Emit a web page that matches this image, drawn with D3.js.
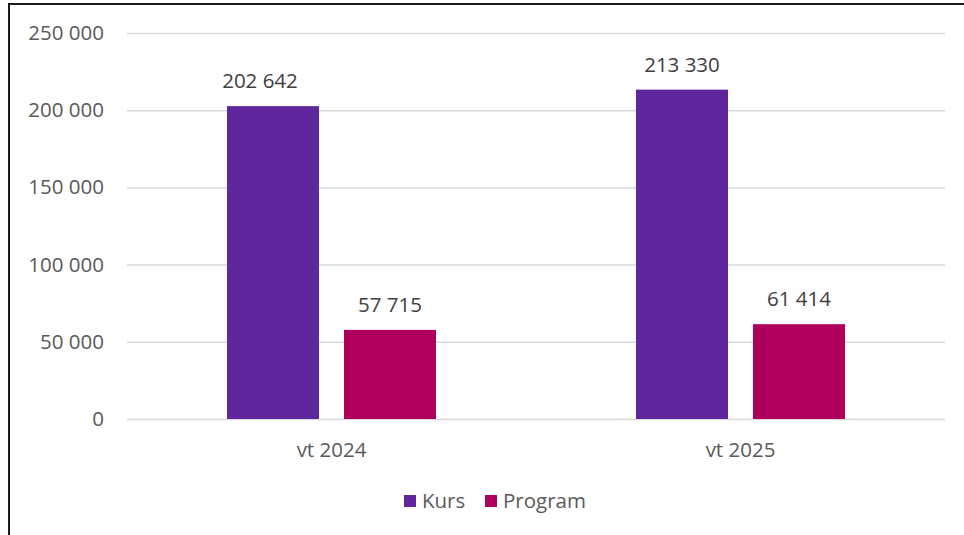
<!DOCTYPE html>
<html lang="sv">
<head>
    <meta charset="UTF-8">
    <title>Kurs och program</title>
    <script src="https://d3js.org/d3.v7.min.js"></script>
    <style>
        html, body { margin: 0; padding: 0; background: #fff; }
        svg { display: block; font-family: "Open Sans", "Noto Sans", sans-serif; }
    </style>
</head>
<body>
    <div id="chart"></div>
    <script>
        // data
        const categories = ["vt 2024", "vt 2025"];
        const series = ["Kurs", "Program"];
        const kurs = [202642, 213330];
        const program = [57715, 61414];
        const yTicks = [0, 50000, 100000, 150000, 200000, 250000];
        const colors = ["#60269e", "#b0005e"];

        const W = 964, H = 535;
        const plot = { left: 127, right: 945, top: 33, bottom: 419 };
        const fs = "20.5px";

        const svg = d3.select("#chart").append("svg")
            .attr("width", W).attr("height", H);

        // frame around the figure (cut off at right and bottom)
        svg.append("path")
            .attr("d", `M9,${H + 5} V4 H${W + 5}`)
            .attr("fill", "none")
            .attr("stroke", "#1a1a1a")
            .attr("stroke-width", 2);

        const x0 = d3.scaleBand().domain(categories).range([plot.left, plot.right]);
        const x1 = d3.scaleBand().domain(series)
            .range([100, x0.bandwidth() - 100])
            .paddingInner(0.2137);
        const y = d3.scaleLinear().domain([0, 250000]).range([plot.bottom, plot.top]);

        const fmt = v => d3.format(",")(v).replace(/,/g, " ");

        // grid + y labels
        const yAxis = svg.append("g")
            .attr("transform", `translate(${plot.left},0)`)
            .call(d3.axisLeft(y).tickValues(yTicks).tickSize(-(plot.right - plot.left)).tickPadding(23).tickFormat(fmt));
        yAxis.select(".domain").remove();
        yAxis.selectAll(".tick line").attr("stroke", "#d9d9d9").attr("stroke-width", 1.5);
        yAxis.selectAll(".tick text")
            .attr("fill", "#595959")
            .style("font-size", fs)
            .style("font-family", "'Open Sans', sans-serif");

        // x labels
        const xAxis = svg.append("g")
            .attr("transform", `translate(0,${plot.bottom})`)
            .call(d3.axisBottom(x0).tickSize(0).tickPadding(23));
        xAxis.select(".domain").remove();
        xAxis.selectAll(".tick text")
            .attr("fill", "#595959")
            .style("font-size", fs)
            .style("font-family", "'Open Sans', sans-serif");

        const rows = categories.map((c, i) => ({ cat: c, vals: [kurs[i], program[i]] }));

        const groups = svg.selectAll("g.grp").data(rows).enter().append("g")
            .attr("class", "grp")
            .attr("transform", d => `translate(${x0(d.cat)},0)`);

        groups.selectAll("rect")
            .data(d => d.vals.map((v, j) => ({ s: series[j], v: v, j: j })))
            .enter().append("rect")
            .attr("x", d => x1(d.s))
            .attr("y", d => y(d.v))
            .attr("width", x1.bandwidth())
            .attr("height", d => y(0) - y(d.v))
            .attr("fill", d => colors[d.j]);

        groups.selectAll("text.lbl")
            .data((d, i) => d.vals.map((v, j) => ({ s: series[j], v: v, first: i === 0 && j === 0 })))
            .enter().append("text")
            .attr("class", "lbl")
            // the first label sits a bit to the left in the original
            .attr("x", d => x1(d.s) + x1.bandwidth() / 2 + (d.first ? -13 : 0))
            .attr("y", d => y(d.v) - 18)
            .attr("text-anchor", "middle")
            .attr("fill", "#404040")
            .style("font-size", fs)
            .text(d => fmt(d.v));

        // legend
        const legend = svg.append("g").attr("transform", "translate(404,495)");
        const items = [{ name: "Kurs", x: 0 }, { name: "Program", x: 81 }];
        items.forEach((it, i) => {
            legend.append("rect")
                .attr("x", it.x).attr("y", 0)
                .attr("width", 12).attr("height", 12)
                .attr("fill", colors[i]);
            legend.append("text")
                .attr("x", it.x + 18).attr("y", 13)
                .attr("fill", "#595959")
                .style("font-size", fs)
                .text(it.name);
        });
    </script>
</body>
</html>
